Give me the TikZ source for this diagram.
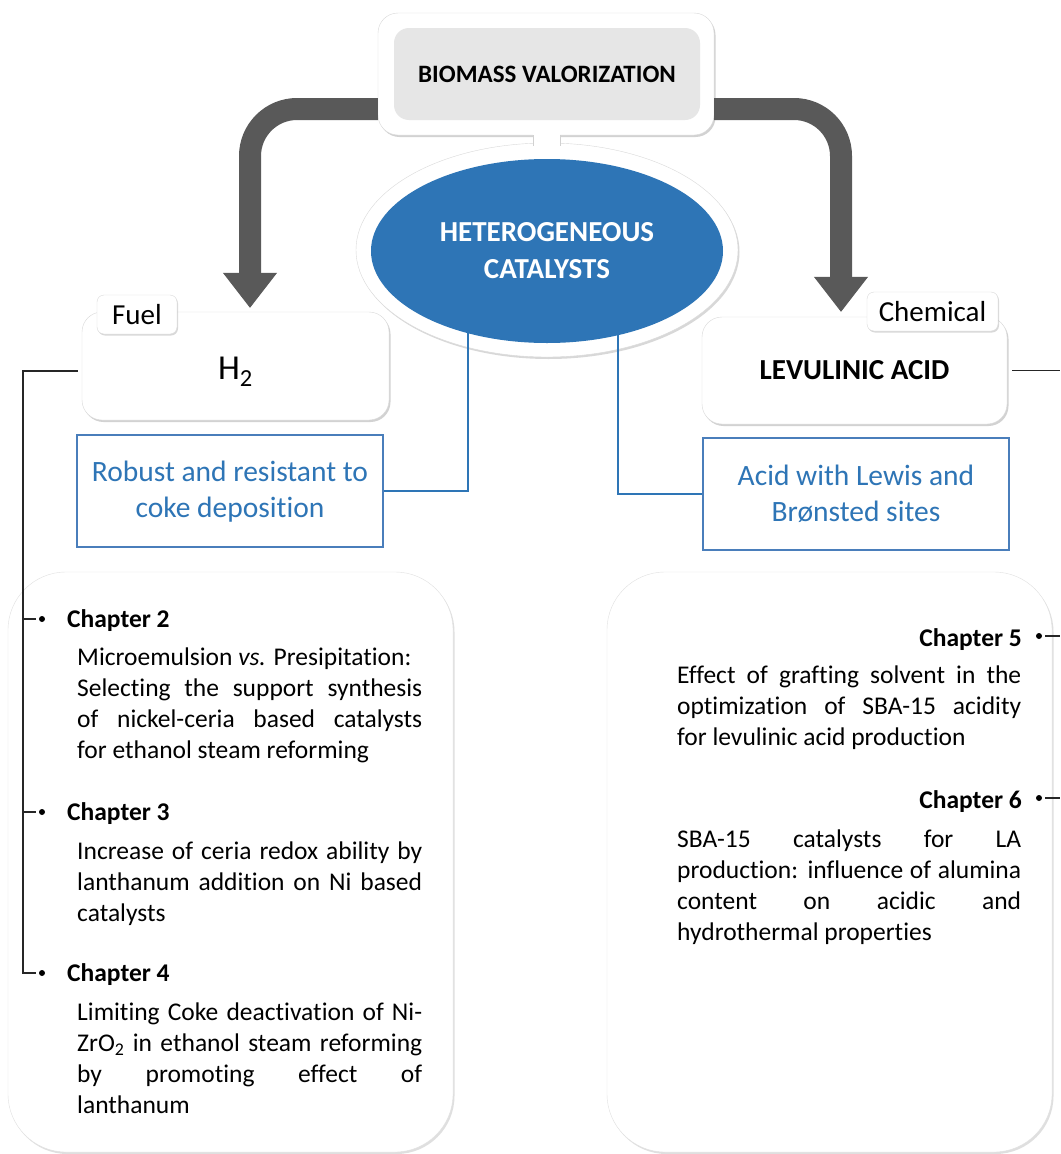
\documentclass[tikz,border=0pt]{standalone}
\usepackage{fontspec}
\setmainfont[Ligatures=NoCommon]{Carlito}
\usetikzlibrary{positioning}
\usetikzlibrary{shapes.geometric}
\usetikzlibrary{shadows}
\usetikzlibrary{arrows.meta}
\definecolor{hcblue}{HTML}{2E75B6}
\definecolor{prblue}{HTML}{4A7EBB}
\definecolor{arrgray}{HTML}{595959}
\definecolor{bvgray}{HTML}{E6E6E6}
\tolerance=10000
\hbadness=10000

\begin{document}
\begin{tikzpicture}[x=1pt,y=-1pt,
		card/.style={draw=black!15, fill=white, rounded corners=20pt, drop shadow={opacity=0.35, shadow xshift=1.5pt, shadow yshift=-2pt}},
		tab/.style={draw=black!15, fill=white, rounded corners=7pt, inner sep=0pt, drop shadow={opacity=0.3, shadow xshift=1pt, shadow yshift=-1.5pt}, font=\fontsize{29}{35}\selectfont},
		panel/.style={draw=black!12, fill=white, rounded corners=58pt, drop shadow={opacity=0.25, shadow xshift=1.5pt, shadow yshift=-2pt}},
		prop/.style={draw=prblue, line width=2pt, text=hcblue, align=center, minimum width=306pt, minimum height=112pt, font=\fontsize{29.5}{36}\selectfont},
		chap/.style={font=\bfseries\fontsize{25.5}{31}\selectfont, inner sep=0pt},
		txt/.style={font=\fontsize{25.5}{31}\selectfont, text width=345pt, align=justify, inner sep=0pt},
		dot/.style={circle, fill=black, inner sep=0pt, minimum size=6pt},
		bigarrow/.style={line width=22pt, draw=arrgray, rounded corners=47pt, -{Triangle[length=35pt,width=54pt,line width=1pt]}},
		link/.style={draw=black!85, line width=1.3pt},
		bluelink/.style={draw=hcblue, line width=2pt}]
	\fill[white] (0,0) rectangle (1060,1154);
	\node (p1) [panel, minimum width=445pt, minimum height=580pt] at (230.5,862) {};
	\node (p2) [panel, minimum width=445pt, minimum height=580pt] at (829.5,862) {};
	\node (h2) [card, minimum width=307pt, minimum height=108pt, label={[font=\fontsize{35}{40}\selectfont, yshift=-6pt]center:H\textsubscript{2}}] at (235.5,366) {};
	\node (la) [card, minimum width=305pt, minimum height=107pt, font=\bfseries\fontsize{29}{35}\selectfont] at (854.5,370.5) {LEVULINIC ACID};
	\node (fuel) [tab, minimum width=80pt, minimum height=39pt] at (137,314.5) {Fuel};
	\node (chem) [tab, minimum width=131pt, minimum height=39pt] at (932.5,311.5) {Chemical};
	\node (pr1) [prop, below=14pt of h2, xshift=-5.5pt] {Robust and resistant to\\coke deposition};
	\node (pr2) [prop, below=13pt of la, xshift=1.5pt] {Acid with Lewis and\\Brønsted sites};
	\node (bv0) [card, minimum width=336pt, minimum height=122pt] at (546,74) {};
	\node (bv) [fill=bvgray, rounded corners=15pt, minimum width=306pt, minimum height=92pt, font=\bfseries\fontsize{25}{30}\selectfont] at (547,74) {BIOMASS VALORIZATION};
	\draw[bigarrow] ([yshift=-35pt]bv0.west) -| ([xshift=14.5pt,yshift=4pt]h2.north);
	\draw[bigarrow] ([yshift=-35pt]bv0.east) -| ([xshift=-13.5pt,yshift=5pt]la.north);
	\node (hcr) [ellipse, fill=white, draw=black!15, minimum width=382pt, minimum height=214pt, drop shadow={opacity=0.3, shadow xshift=1.5pt, shadow yshift=-2pt}] at (547,250) {};
	\fill[white] (533,126) rectangle (560,150);
	\draw[black!18] (533,135) -- (533,146);
	\draw[black!18] (560,135) -- (560,146);
	\node (hc) [ellipse, fill=hcblue, text=white, minimum width=352pt, minimum height=184pt, align=center, font=\bfseries\fontsize{29}{37}\selectfont] at (547,251) {HETEROGENEOUS\\CATALYSTS};
	\draw[bluelink] (hc.226.6) |- (pr1.east);
	\draw[bluelink] (hc.310.6) |- (pr2.west);
	\node (c2) [chap, anchor=west] at (67,621) {Chapter 2};
	\node (t2) [txt, anchor=north west] at (77,648) {Microemulsion \textit{vs.} Presipitation:\\Selecting the support synthesis\linebreak of nickel-ceria based catalysts\linebreak for ethanol steam reforming};
	\node (c3) [chap, anchor=west] at (67,814) {Chapter 3};
	\node (t3) [txt, anchor=north west] at (77,842) {Increase of ceria redox ability by\linebreak lanthanum addition on Ni based\linebreak catalysts};
	\node (c4) [chap, anchor=west] at (67,975) {Chapter 4};
	\node (t4) [txt, anchor=north west] at (77,1003) {Limiting Coke deactivation of Ni-\linebreak ZrO\textsubscript{2} in ethanol steam reforming\linebreak by promoting effect of\linebreak lanthanum};
	\node (c5) [chap, anchor=east] at (1022,640) {Chapter 5};
	\node (t5) [txt, text width=344pt, anchor=north west] at (677,666) {Effect of grafting solvent in the\linebreak optimization of SBA-15 acidity\linebreak for levulinic acid production};
	\node (c6) [chap, anchor=east] at (1022,802) {Chapter 6};
	\node (t6) [txt, text width=344pt, anchor=north west] at (677,830) {SBA-15 catalysts for LA\linebreak production: influence of alumina\linebreak content on acidic and\linebreak hydrothermal properties};
	\node (b2) [dot] at (42,619) {};
	\node (b3) [dot] at (42,812) {};
	\node (b4) [dot] at (42,973) {};
	\node (b5) [dot] at (1039,636) {};
	\node (b6) [dot] at (1039,798) {};
	\coordinate (lv) at (23,0);
	\coordinate (re) at (1060,0);
	\draw[link] ([xshift=-4pt,yshift=-5pt]h2.west) -| (lv |- b4.west) -- ([xshift=-3pt]b4.west);
	\draw[link] (b2.west -| lv) -- ([xshift=-3pt]b2.west);
	\draw[link] (b3.west -| lv) -- ([xshift=-3pt]b3.west);
	\draw[link] ([xshift=5pt]la.east) -- (la.east -| re);
	\draw[link] ([xshift=3pt]b5.east) -- (b5.east -| re);
	\draw[link] ([xshift=3pt]b6.east) -- (b6.east -| re);
\end{tikzpicture}
\end{document}
